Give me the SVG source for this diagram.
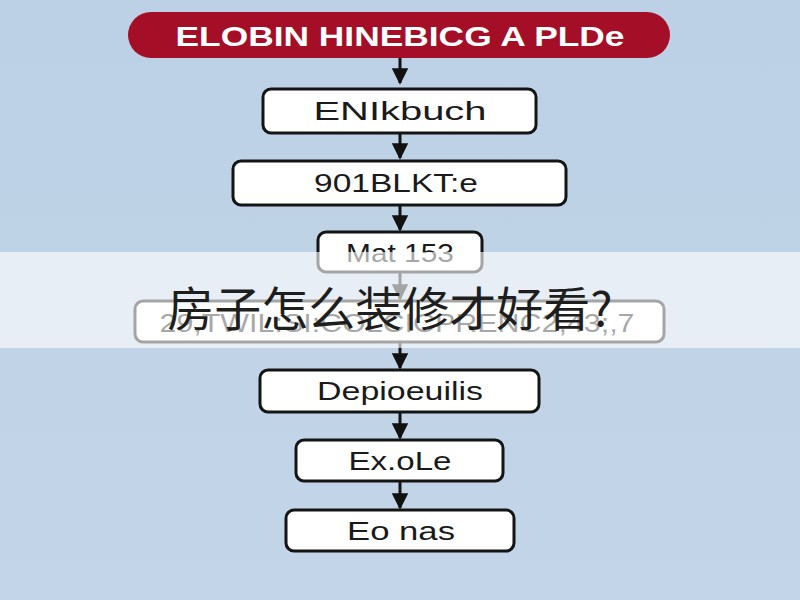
<svg xmlns="http://www.w3.org/2000/svg" width="800" height="600" viewBox="0 0 800 600">
<defs>
<linearGradient id="bg" x1="0" y1="0" x2="0" y2="1">
<stop offset="0" stop-color="#bcd1e6"/>
<stop offset="1" stop-color="#c3d5e8"/>
</linearGradient>
<marker id="ah" viewBox="0 0 10 10" refX="9" refY="5" markerWidth="5.5" markerHeight="5.5" orient="auto" markerUnits="strokeWidth">
<path d="M0,0 L10,5 L0,10 z" fill="#111"/>
</marker>
<style>
.box{fill:#ffffff;stroke:#141414;stroke-width:3}
.lbl{font-family:"Liberation Sans",Arial,sans-serif;font-size:25px;fill:#1a1a1a;text-anchor:middle}
.con{stroke:#141414;stroke-width:3;fill:none;marker-end:url(#ah)}
</style>
</defs>
<rect x="0" y="0" width="800" height="600" fill="url(#bg)"/>
<g id="connectors">
<line class="con" x1="400" y1="58" x2="400" y2="83"/>
<line class="con" x1="400" y1="133" x2="400" y2="158"/>
<line class="con" x1="400" y1="205" x2="400" y2="230"/>
<line class="con" x1="400" y1="272" x2="400" y2="299"/>
<line class="con" x1="400" y1="342" x2="400" y2="368"/>
<line class="con" x1="400" y1="412" x2="400" y2="438"/>
<line class="con" x1="400" y1="481" x2="400" y2="508"/>
</g>
<g id="title">
<rect x="128" y="12" width="542" height="46" rx="23" fill="#a50e27"/>
<text x="400" y="46" font-family="Liberation Sans,Arial,sans-serif" font-size="28" font-weight="bold" fill="#ffffff" text-anchor="middle" textLength="449" lengthAdjust="spacingAndGlyphs">ELOBIN HINEBICG A PLDe</text>
</g>
<g id="n1">
<rect class="box" x="263" y="89" width="273" height="44" rx="8"/>
<text class="lbl" x="400" y="120" textLength="173" lengthAdjust="spacingAndGlyphs">ENIkbuch</text>
</g>
<g id="n2">
<rect class="box" x="233" y="161" width="333" height="44" rx="8"/>
<text class="lbl" x="396" y="192" textLength="164" lengthAdjust="spacingAndGlyphs">901BLKT:e</text>
</g>
<g id="n3">
<rect class="box" x="318" y="232" width="164" height="40" rx="8"/>
<text class="lbl" x="400" y="262" textLength="108" lengthAdjust="spacingAndGlyphs">Mat 153</text>
</g>
<g id="n4">
<rect class="box" x="135" y="301" width="529" height="41" rx="8"/>
<text class="lbl" x="397" y="332" textLength="475" lengthAdjust="spacingAndGlyphs">29,TWIL:SI:COLCICPRENC2,43;,7</text>
</g>
<g id="n5">
<rect class="box" x="260" y="370" width="279" height="42" rx="8"/>
<text class="lbl" x="400" y="400" textLength="166" lengthAdjust="spacingAndGlyphs">Depioeuilis</text>
</g>
<g id="n6">
<rect class="box" x="296" y="440" width="207" height="41" rx="8"/>
<text class="lbl" x="400" y="470" textLength="103" lengthAdjust="spacingAndGlyphs">Ex.oLe</text>
</g>
<g id="n7">
<rect class="box" x="286" y="510" width="228" height="41" rx="8"/>
<text class="lbl" x="401" y="540" textLength="108" lengthAdjust="spacingAndGlyphs">Eo nas</text>
</g>
<g id="banner">
<rect x="0" y="252" width="800" height="96" fill="#ffffff" fill-opacity="0.62"/>
<text x="390" y="326" font-family="Noto Sans CJK SC,sans-serif" font-size="47" fill="#1e1e1e" text-anchor="middle">房子怎么装修才好看?</text>
</g>
</svg>
